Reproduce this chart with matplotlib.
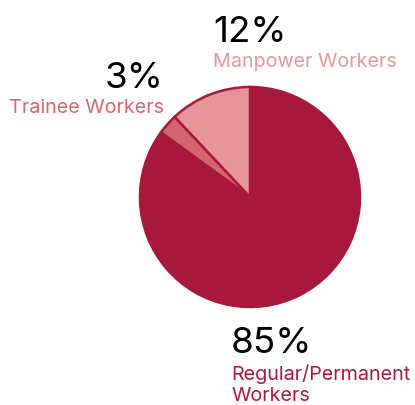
import matplotlib.pyplot as plt

plt.rcParams['font.family'] = ['Inter', 'DejaVu Sans']

labels = ["Regular/Permanent\nWorkers", "Trainee Workers", "Manpower Workers"]
shares = [85, 3, 12]
pct_text = ["85%", "3%", "12%"]
colors = ["#A8183B", "#D4656E", "#E8959A"]
edge = "#A8183B"

W, H = 415, 405
fig = plt.figure(figsize=(W / 100, H / 100), dpi=100)
ax = fig.add_axes([0, 0, 1, 1])

ax.pie(shares, colors=colors, startangle=90, counterclock=False,
       center=(250, H - 197), radius=110,
       wedgeprops=dict(edgecolor=edge, linewidth=1.8))

# pie() resets the limits, so set them afterwards
ax.set_xlim(0, W)
ax.set_ylim(0, H)
ax.set_aspect('equal')
ax.axis('off')

# (x, baseline y for pct, baseline y of last label line, alignment)
pos = [(231, 353, 401, 'left'), (164, 88, 113, 'right'), (213, 42, 67, 'left')]
for (x, yp, yl, ha), p, lab, c in zip(pos, pct_text, labels, colors):
    ax.text(x, H - yp, p, fontsize=26.5, color='black', ha=ha, va='baseline')
    ax.text(x, H - yl, lab, fontsize=14.2, color=c, ha=ha, va='baseline',
            linespacing=1.2)

fig.savefig("out.png", dpi=100)
